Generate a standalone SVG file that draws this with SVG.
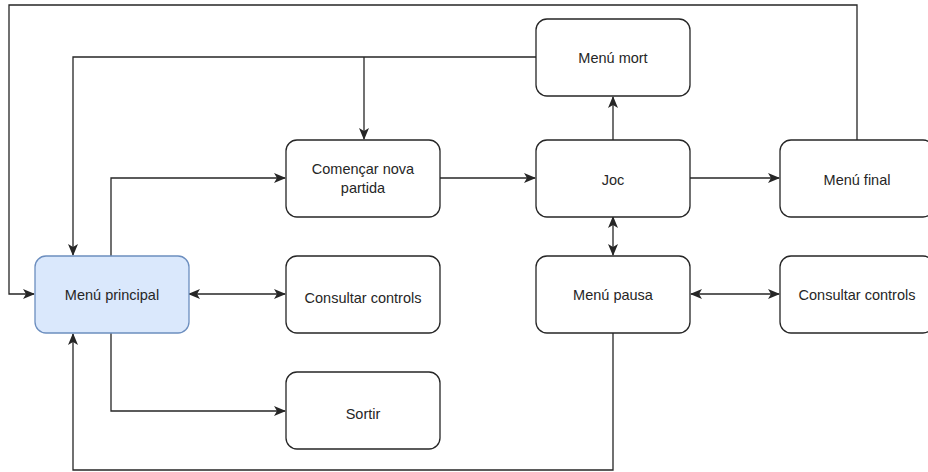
<svg xmlns="http://www.w3.org/2000/svg" width="928" height="472" viewBox="0 0 928 472">
  <style>
    .box { fill: #ffffff; stroke: #262626; stroke-width: 1.3; }
    .main { fill: #dae8fc; stroke: #6c8ebf; stroke-width: 1.3; }
    .lbl { font-family: "Liberation Sans", Arial, sans-serif; font-size: 14.5px; fill: #262626; text-anchor: middle; dominant-baseline: central; }
    .edge { fill: none; stroke: #262626; stroke-width: 1.3; }
  </style>
  <defs>
    <marker id="arrow" viewBox="0 0 12 10" refX="11" refY="5" markerWidth="12" markerHeight="10" markerUnits="userSpaceOnUse" orient="auto-start-reverse">
      <path d="M0,0 L12,5 L0,10 L3,5 Z" fill="#262626"/>
    </marker>
  </defs>

  <g id="connectors">
    <!-- Menú final back to Menú principal (outer loop) -->
    <path class="edge" d="M857,140 V5 H9 V294 H34" marker-end="url(#arrow)"/>
    <!-- Menú mort back to Menú principal -->
    <path class="edge" d="M536,57 H73 V255" marker-end="url(#arrow)"/>
    <!-- Menú mort to Començar nova partida -->
    <path class="edge" d="M364,57 V139" marker-end="url(#arrow)"/>
    <!-- Menú principal to Començar nova partida -->
    <path class="edge" d="M111,256 V178 H285" marker-end="url(#arrow)"/>
    <!-- Menú principal to Sortir -->
    <path class="edge" d="M111,333 V411 H285" marker-end="url(#arrow)"/>
    <!-- Menú principal <-> Consultar controls -->
    <path class="edge" d="M189,294 H285" marker-start="url(#arrow)" marker-end="url(#arrow)"/>
    <!-- Menú pausa back to Menú principal -->
    <path class="edge" d="M613,333 V470 H73 V334" marker-end="url(#arrow)"/>
    <!-- Començar nova partida to Joc -->
    <path class="edge" d="M440,178 H535" marker-end="url(#arrow)"/>
    <!-- Joc to Menú mort -->
    <path class="edge" d="M613,140 V97" marker-end="url(#arrow)"/>
    <!-- Joc to Menú final -->
    <path class="edge" d="M690,178 H779" marker-end="url(#arrow)"/>
    <!-- Joc <-> Menú pausa -->
    <path class="edge" d="M613,217 V255" marker-start="url(#arrow)" marker-end="url(#arrow)"/>
    <!-- Menú pausa <-> Consultar controls -->
    <path class="edge" d="M691,294 H779" marker-start="url(#arrow)" marker-end="url(#arrow)"/>
  </g>

  <g id="menu-principal">
    <rect class="main" x="35" y="256" width="154" height="77" rx="11"/>
    <text class="lbl" x="112" y="294.5">Menú principal</text>
  </g>
  <g id="comencar">
    <rect class="box" x="286" y="140" width="154" height="77" rx="11"/>
    <text class="lbl" x="363" y="169">Començar nova</text>
    <text class="lbl" x="363" y="188">partida</text>
  </g>
  <g id="consultar-1">
    <rect class="box" x="286" y="256" width="154" height="77" rx="11"/>
    <text class="lbl" x="363" y="298">Consultar controls</text>
  </g>
  <g id="sortir">
    <rect class="box" x="286" y="372" width="154" height="77" rx="11"/>
    <text class="lbl" x="363" y="414">Sortir</text>
  </g>
  <g id="menu-mort">
    <rect class="box" x="536" y="19" width="154" height="77" rx="11"/>
    <text class="lbl" x="613" y="58">Menú mort</text>
  </g>
  <g id="joc">
    <rect class="box" x="536" y="140" width="154" height="77" rx="11"/>
    <text class="lbl" x="613" y="180">Joc</text>
  </g>
  <g id="menu-pausa">
    <rect class="box" x="536" y="256" width="154" height="77" rx="11"/>
    <text class="lbl" x="613" y="295">Menú pausa</text>
  </g>
  <g id="menu-final">
    <rect class="box" x="780" y="140" width="154" height="77" rx="11"/>
    <text class="lbl" x="857" y="180">Menú final</text>
  </g>
  <g id="consultar-2">
    <rect class="box" x="780" y="256" width="154" height="77" rx="11"/>
    <text class="lbl" x="857" y="295">Consultar controls</text>
  </g>
</svg>
